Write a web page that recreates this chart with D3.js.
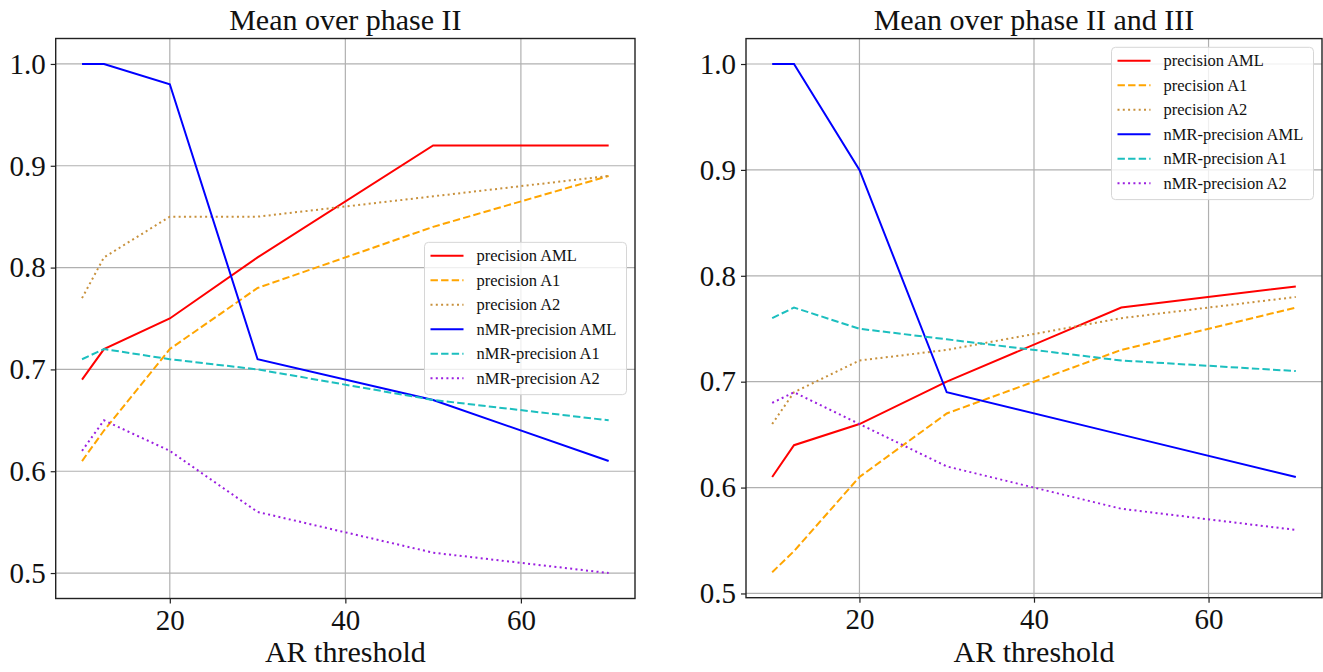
<!DOCTYPE html>
<html lang="en">
<head>
<meta charset="UTF-8">
<title>AR threshold</title>
<script src="https://d3js.org/d3.v7.min.js"></script>
<style>
  * { margin: 0; padding: 0; }
  body { background: #fff; }
  svg text { font-family: "Liberation Serif", "DejaVu Serif", serif; fill: #111; }
  .grid line { stroke: #b0b0b0; stroke-width: 1.2px; }
</style>
</head>
<body>
<div id="content"></div>
<script>
// x values (AR threshold) shared by both panels
var thresholds = [10, 12.5, 20, 30, 50, 70];

var seriesNames = ["precision AML", "precision A1", "precision A2",
                   "nMR-precision AML", "nMR-precision A1", "nMR-precision A2"];

// panel 1: mean over phase II
var p2_precAML = [0.69, 0.72, 0.75, 0.81, 0.92, 0.92];
var p2_precA1  = [0.61, 0.64, 0.72, 0.78, 0.84, 0.89];
var p2_precA2  = [0.77, 0.81, 0.85, 0.85, 0.87, 0.89];
var p2_nmrAML  = [1.00, 1.00, 0.98, 0.71, 0.67, 0.61];
var p2_nmrA1   = [0.71, 0.72, 0.71, 0.70, 0.67, 0.65];
var p2_nmrA2   = [0.62, 0.65, 0.62, 0.56, 0.52, 0.50];

// panel 2: mean over phase II and III
var p23_precAML = [0.61, 0.64, 0.66, 0.70, 0.77, 0.79];
var p23_precA1  = [0.52, 0.54, 0.61, 0.67, 0.73, 0.77];
var p23_precA2  = [0.66, 0.69, 0.72, 0.73, 0.76, 0.78];
var p23_nmrAML  = [1.00, 1.00, 0.90, 0.69, 0.65, 0.61];
var p23_nmrA1   = [0.76, 0.77, 0.75, 0.74, 0.72, 0.71];
var p23_nmrA2   = [0.68, 0.69, 0.66, 0.62, 0.58, 0.56];

var xTicks = [20, 40, 60];
var yTicks = [0.5, 0.6, 0.7, 0.8, 0.9, 1.0];

// line styles for the six series
var styles = [
  {color: "#ff0000", dash: null},
  {color: "#ffa500", dash: "7.4,3.2"},
  {color: "#c8913c", dash: "2,3.3"},
  {color: "#0000ff", dash: null},
  {color: "#1cbfbf", dash: "7.4,3.2"},
  {color: "#9b1fe0", dash: "2,3.3"}
];

var width = 1323, height = 672;
var svg = d3.select("#content").append("svg")
    .attr("width", width).attr("height", height);

function drawPanel(p){
  var xScale = d3.scaleLinear().domain([7, 73]).range([p.left, p.right]);
  var yScale = d3.scaleLinear().domain(p.yDomain).range([p.bottom, p.top]);
  var g = svg.append("g");

  // grid
  var grid = g.append("g").attr("class", "grid");
  grid.selectAll(".gx").data(xTicks).enter().append("line")
      .attr("x1", function(d){ return xScale(d); }).attr("x2", function(d){ return xScale(d); })
      .attr("y1", p.top).attr("y2", p.bottom);
  grid.selectAll(".gy").data(yTicks).enter().append("line")
      .attr("y1", function(d){ return yScale(d); }).attr("y2", function(d){ return yScale(d); })
      .attr("x1", p.left).attr("x2", p.right);

  // lines
  var line = d3.line()
      .x(function(d, i){ return xScale(thresholds[i]); })
      .y(function(d){ return yScale(d); });
  p.series.forEach(function(s, i){
    g.append("path")
        .attr("d", line(s))
        .attr("fill", "none")
        .attr("stroke", styles[i].color)
        .attr("stroke-width", 2)
        .attr("stroke-dasharray", styles[i].dash);
  });

  // axes
  var xAxis = d3.axisBottom(xScale).tickValues(xTicks).tickSize(5).tickPadding(6)
      .tickFormat(d3.format("d"));
  var yAxis = d3.axisLeft(yScale).tickValues(yTicks).tickSize(5).tickPadding(5)
      .tickFormat(d3.format(".1f"));
  var ax = g.append("g").attr("transform", "translate(0," + p.bottom + ")").call(xAxis);
  var ay = g.append("g").attr("transform", "translate(" + p.left + ",0)").call(yAxis);
  [ax, ay].forEach(function(a){
    a.select(".domain").remove();
    a.selectAll("line").attr("stroke", "#222").attr("stroke-width", 1.2);
    a.selectAll("text").attr("font-size", 29).attr("fill", "#111")
        .attr("font-family", "Liberation Serif, serif");
  });
  ax.selectAll("text").attr("dy", "0.71em");

  // frame
  g.append("rect")
      .attr("x", p.left).attr("y", p.top)
      .attr("width", p.right - p.left).attr("height", p.bottom - p.top)
      .attr("fill", "none").attr("stroke", "#222").attr("stroke-width", 1.4);

  // title and x label
  g.append("text").attr("x", (p.left + p.right) / 2).attr("y", 30)
      .attr("text-anchor", "middle").attr("font-size", 30).text(p.title);
  g.append("text").attr("x", (p.left + p.right) / 2).attr("y", 662)
      .attr("text-anchor", "middle").attr("font-size", 30).text("AR threshold");

  // legend
  var lw = 202, lh = 152.3;
  var lx = p.right - 8.5 - lw;
  var ly = p.legendPos === "center right" ? (p.top + p.bottom) / 2 - lh / 2 : p.top + 8.7;
  var lg = g.append("g").attr("transform", "translate(" + lx + "," + ly + ")");
  lg.append("rect").attr("width", lw).attr("height", lh).attr("rx", 4)
      .attr("fill", "#fff").attr("fill-opacity", 0.8)
      .attr("stroke", "#d6d6d6").attr("stroke-width", 1);
  seriesNames.forEach(function(n, i){
    var cy = 13.5 + i * 24.5;
    lg.append("line").attr("x1", 6).attr("x2", 39).attr("y1", cy).attr("y2", cy)
        .attr("stroke", styles[i].color).attr("stroke-width", 2)
        .attr("stroke-dasharray", styles[i].dash);
    lg.append("text").attr("x", 52).attr("y", cy + 5.5)
        .attr("font-size", 16.5).text(n);
  });
}

drawPanel({
  title: "Mean over phase II",
  left: 55.7, right: 635, top: 38.5, bottom: 598.5,
  yDomain: [0.475, 1.025],
  legendPos: "center right",
  series: [p2_precAML, p2_precA1, p2_precA2, p2_nmrAML, p2_nmrA1, p2_nmrA2]
});

drawPanel({
  title: "Mean over phase II and III",
  left: 746, right: 1322, top: 38.6, bottom: 597.7,
  yDomain: [0.496, 1.024],
  legendPos: "upper right",
  series: [p23_precAML, p23_precA1, p23_precA2, p23_nmrAML, p23_nmrA1, p23_nmrA2]
});
</script>
</body>
</html>
